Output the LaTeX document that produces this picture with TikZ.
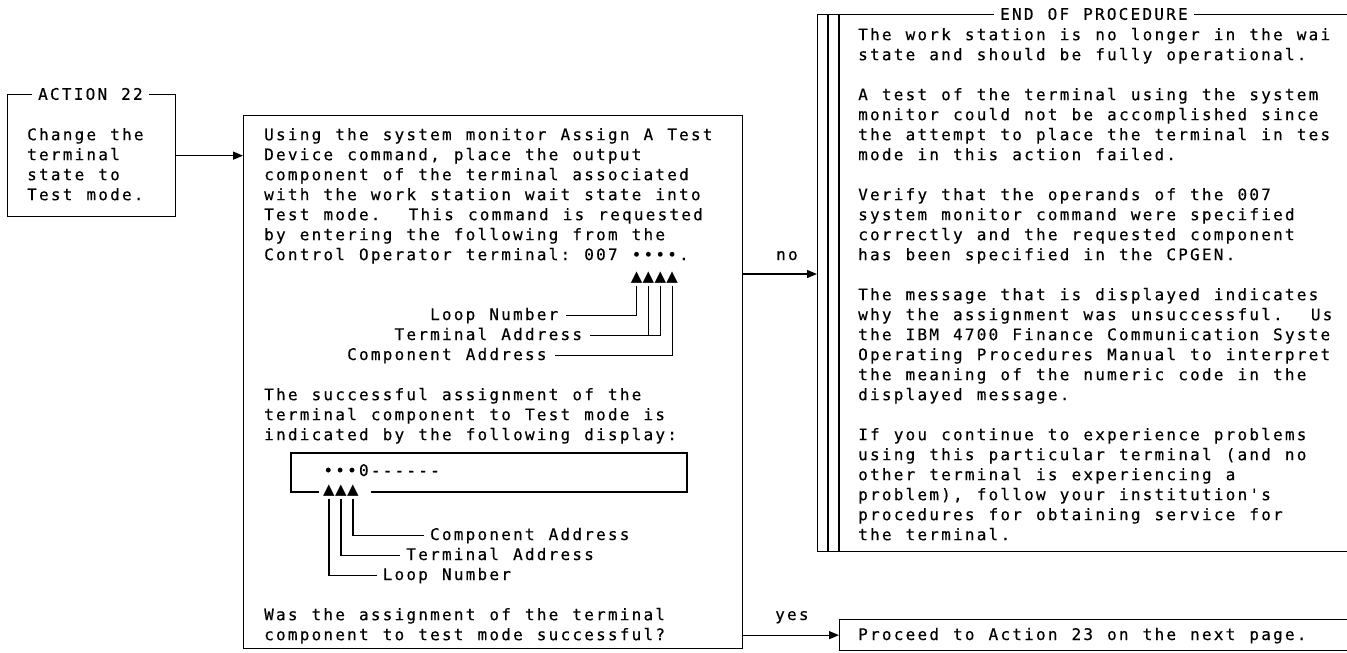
\documentclass[tikz,border=0pt]{standalone}
\usepackage{fontspec}
\usetikzlibrary{arrows.meta}
\newfontfamily\monof[Ligatures=TeXOff,LetterSpace=13.9,FakeBold=0.4]{DejaVu Sans Mono}
\newfontfamily\symf{DejaVu Sans}
\newcommand{\mtext}{\monof\fontsize{16}{20}\selectfont\frenchspacing\spaceskip=14.07pt\relax}
\tikzset{
  box/.style={draw, line width=1.3pt, inner sep=0pt, anchor=north west},
  txt/.style={inner sep=0pt, anchor=north west, align=left, font=\mtext},
  lbl/.style={inner sep=0pt, anchor=base west, font=\mtext, text height=11pt, text depth=2pt},
  tri/.style={inner sep=0pt, anchor=base, font=\symf\fontsize{15}{15}\selectfont},
  arr/.style={line width=1.3pt, -{Triangle[length=10pt,width=8pt]}},
  ptr/.style={line width=1.3pt},
  tag/.style={fill=white, inner xsep=6pt, inner ysep=0pt, anchor=west, font=\mtext}
}
\begin{document}
\begin{tikzpicture}[x=1pt,y=-1pt]
\useasboundingbox (0,0) rectangle (1347,653);
\clip (0,0) rectangle (1347,653);
\fill[white] (0,0) rectangle (1347,653);

% boxes
\node[box, minimum width=168pt, minimum height=122pt] (lbox) at (7,94) {};
\node[box, minimum width=499pt, minimum height=533pt] (mbox) at (243,115) {};
\node[box, minimum width=600pt, minimum height=537pt] (rbox) at (817,14) {};
\draw[ptr] ([xshift=11pt]rbox.north west) -- ([xshift=11pt]rbox.south west);
\draw[ptr] ([xshift=22pt]rbox.north west) -- ([xshift=22pt]rbox.south west);
\node[box, minimum width=600pt, minimum height=31pt] (pbox) at (839,619) {};

% box titles
\node[tag] (actlbl) at (32,94) {ACTION 22};
\node[tag] (endlbl) at (994,14) {END OF PROCEDURE};

% left text
\node[txt] (ltext) at (27,126) {\strut Change the\\terminal\\state to\\Test mode.};

% middle text
\node[txt] (mtext1) at (264,126) {\strut Using the system monitor Assign A Test\\
Device command, place the output\\
component of the terminal associated\\
with the work station wait state into\\
Test mode.~ This command is requested\\
by entering the following from the\\
Control Operator terminal: 007 ••••.};

\node[tri] (t1) at (636.7,281) {▲};
\node[tri] (t2) at (648.5,281) {▲};
\node[tri] (t3) at (660.4,281) {▲};
\node[tri] (t4) at (672.2,281) {▲};

\node[lbl] (loop1) at (429.9,320) {Loop Number};
\node[lbl] (term1) at (394.4,340) {Terminal Address};
\node[lbl] (comp1) at (347,360) {Component Address};

\draw[ptr] ([yshift=-3pt]t1.south) |- ([xshift=8pt]loop1.east);
\draw[ptr] ([yshift=-3pt]t2.south) |- ([xshift=8pt]term1.east);
\draw[ptr] ([yshift=-3pt]t3.south) |- ([xshift=8pt]term1.east);
\draw[ptr] ([yshift=-3pt]t4.south) |- ([xshift=8pt]comp1.east);

\node[txt] (mtext2) at (264,386) {\strut The successful assignment of the\\
terminal component to Test mode is\\
indicated by the following display:};

% display
\draw[ptr] (319,492) -- (291,492) -- (291,453) -- (687,453) -- (687,492) -- (371,492);
\node[lbl] (dtext) at (323.25,476) {•••0------};
\node[tri] (t5) at (329,494) {▲};
\node[tri] (t6) at (341,494) {▲};
\node[tri] (t7) at (353,494) {▲};

\node[lbl] (comp2) at (429.9,540) {Component Address};
\node[lbl] (term2) at (406.2,560) {Terminal Address};
\node[lbl] (loop2) at (382.5,580) {Loop Number};

\draw[ptr] ([yshift=-3pt]t7.south) |- ([xshift=-6pt]comp2.west);
\draw[ptr] ([yshift=-3pt]t6.south) |- ([xshift=-6pt]term2.west);
\draw[ptr] ([yshift=-3pt]t5.south) |- ([xshift=-6pt]loop2.west);

\node[txt] (mtext3) at (264,606) {\strut Was the assignment of the terminal\\
component to test mode successful?};

% right text
\node[txt] (rtext) at (858,26) {\strut The work station is no longer in the wai\\
state and should be fully operational.\\[20pt]
A test of the terminal using the system\\
monitor could not be accomplished since\\
the attempt to place the terminal in tes\\
mode in this action failed.\\[20pt]
Verify that the operands of the 007\\
system monitor command were specified\\
correctly and the requested component\\
has been specified in the CPGEN.\\[20pt]
The message that is displayed indicates\\
why the assignment was unsuccessful.~ Us\\
the IBM 4700 Finance Communication Syste\\
Operating Procedures Manual to interpret\\
the meaning of the numeric code in the\\
displayed message.\\[20pt]
If you continue to experience problems\\
using this particular terminal (and no\\
other terminal is experiencing a\\
problem), follow your institution's\\
procedures for obtaining service for\\
the terminal.};

\node[lbl] (ptext) at (858,640) {Proceed to Action 23 on the next page.};

% connectors
\coordinate (noY) at (0,274);
\draw[arr] (lbox.east) -- (mbox.west |- lbox.east);
\draw[arr] (mbox.east |- noY) -- (rbox.west |- noY);
\draw[arr] (mbox.east |- pbox.west) -- (pbox.west);
\node[lbl] (nolbl) at (776,260) {no};
\node[lbl] (yeslbl) at (775,620) {yes};
\end{tikzpicture}
\end{document}
